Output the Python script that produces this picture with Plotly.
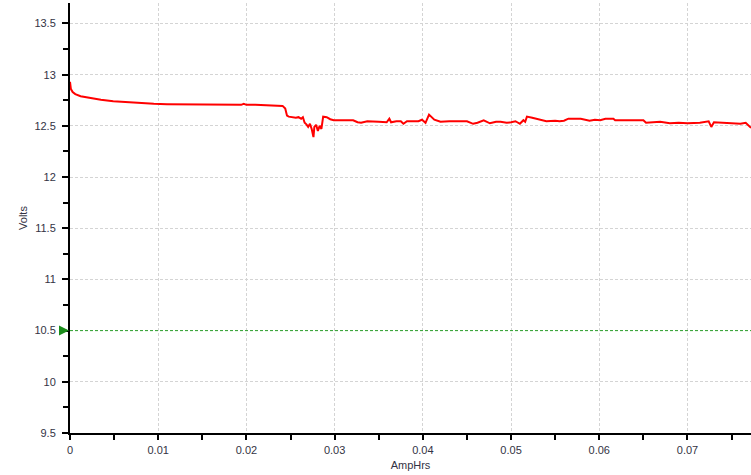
import plotly.graph_objects as go

amp_hrs = [0.0000, 0.0001, 0.0003, 0.0006, 0.0012, 0.0023, 0.0035, 0.0049, 0.0072, 0.0095,
           0.0110, 0.0148, 0.0190, 0.0194, 0.0197, 0.0200, 0.0210, 0.0222, 0.0236, 0.0241,
           0.0244, 0.0246, 0.0248, 0.0252, 0.0256, 0.0259, 0.0262, 0.0264, 0.0266, 0.0268,
           0.0270, 0.0272, 0.0274, 0.0276, 0.0277, 0.0279, 0.0281, 0.0283, 0.0285, 0.0287,
           0.0291, 0.0295, 0.0299, 0.0310, 0.0321, 0.0326, 0.0330, 0.0337, 0.0344, 0.0350,
           0.0359, 0.0362, 0.0364, 0.0370, 0.0375, 0.0378, 0.0382, 0.0395, 0.0399, 0.0403,
           0.0407, 0.0410, 0.0413, 0.0420, 0.0430, 0.0450, 0.0457, 0.0462, 0.0469, 0.0476,
           0.0483, 0.0488, 0.0495, 0.0500, 0.0505, 0.0510, 0.0514, 0.0516, 0.0518, 0.0524,
           0.0533, 0.0540, 0.0550, 0.0555, 0.0560, 0.0565, 0.0579, 0.0589, 0.0595, 0.0601,
           0.0607, 0.0616, 0.0618, 0.0650, 0.0653, 0.0660, 0.0669, 0.0680, 0.0690, 0.0700,
           0.0714, 0.0724, 0.0727, 0.0730, 0.0740, 0.0752, 0.0760, 0.0766, 0.0770, 0.0772]
volts = [12.93, 12.86, 12.83, 12.81, 12.79, 12.77, 12.755, 12.74, 12.725, 12.715,
         12.712, 12.71, 12.71, 12.705, 12.715, 12.705, 12.707, 12.705, 12.703, 12.695,
         12.67, 12.60, 12.59, 12.585, 12.58, 12.585, 12.57, 12.585, 12.53, 12.515,
         12.49, 12.52, 12.47, 12.39, 12.49, 12.51, 12.45, 12.50, 12.47, 12.59,
         12.585, 12.565, 12.555, 12.555, 12.555, 12.535, 12.53, 12.545, 12.545, 12.54,
         12.535, 12.57, 12.535, 12.545, 12.545, 12.52, 12.545, 12.545, 12.56, 12.53,
         12.61, 12.585, 12.56, 12.54, 12.545, 12.545, 12.52, 12.53, 12.555, 12.525,
         12.54, 12.54, 12.53, 12.535, 12.545, 12.52, 12.555, 12.54, 12.59, 12.58,
         12.56, 12.545, 12.55, 12.545, 12.55, 12.57, 12.57, 12.55, 12.56, 12.555,
         12.57, 12.57, 12.555, 12.555, 12.53, 12.535, 12.54, 12.525, 12.53, 12.525,
         12.53, 12.545, 12.49, 12.535, 12.53, 12.53, 12.52, 12.53, 12.49, 12.48]

cutoff_volts = 10.5
x_range = [0, 0.0772]
y_range = [9.5, 13.7]
y_tickvals = [9.5, 10, 10.5, 11, 11.5, 12, 12.5, 13, 13.5]
y_ticktext = ["9.5", "10", "10.5", "11", "11.5", "12", "12.5", "13", "13.5"]
x_tickvals = [0, 0.01, 0.02, 0.03, 0.04, 0.05, 0.06, 0.07]
x_ticktext = ["0", "0.01", "0.02", "0.03", "0.04", "0.05", "0.06", "0.07"]

fig = go.Figure()
fig.add_trace(go.Scatter(x=x_range, y=[cutoff_volts, cutoff_volts], mode="lines",
                         line=dict(color="#2ca02c", width=1, dash="3px,2px"),
                         hoverinfo="skip", showlegend=False))
fig.add_trace(go.Scatter(x=amp_hrs, y=volts, mode="lines",
                         line=dict(color="#ff0000", width=2),
                         showlegend=False))
fig.add_annotation(x=0, y=cutoff_volts, xref="x", yref="y", text="",
                   showarrow=True, ax=-7, ay=0, arrowhead=2, arrowsize=0.8,
                   arrowwidth=2.5, arrowcolor="#1a8c1a", standoff=1)

tickfont = dict(family="Liberation Sans, Arial, sans-serif", size=11, color="#333344")
fig.update_layout(
    width=751, height=475,
    margin=dict(l=70, r=0, t=3, b=42),
    paper_bgcolor="white", plot_bgcolor="white",
    font=tickfont,
    xaxis=dict(range=x_range, tickvals=x_tickvals, ticktext=x_ticktext, automargin=False,
               showline=True, linecolor="black", linewidth=2,
               ticks="outside", ticklen=5, tickwidth=2, tickcolor="black",
               ticklabelstandoff=1,
               showgrid=True, gridcolor="#d4d4d4", gridwidth=1, griddash="3px,2px",
               zeroline=False,
               minor=dict(dtick=0.005, ticks="outside", ticklen=5, tickwidth=2,
                          tickcolor="black", showgrid=False),
               title=dict(text="AmpHrs", font=dict(size=11, color="#333344"), standoff=6),
               tickfont=tickfont),
    yaxis=dict(range=y_range, tickvals=y_tickvals, ticktext=y_ticktext, automargin=False,
               showline=True, linecolor="black", linewidth=2,
               ticks="outside", ticklen=6, tickwidth=2, tickcolor="black",
               ticklabelstandoff=4,
               showgrid=True, gridcolor="#d4d4d4", gridwidth=1, griddash="3px,2px",
               zeroline=False,
               minor=dict(dtick=0.25, ticks="outside", ticklen=5, tickwidth=2,
                          tickcolor="black", showgrid=False),
               title=dict(text="Volts", font=dict(size=11, color="#333344"), standoff=5),
               tickfont=tickfont),
)
fig.write_html("out.html", config={"displayModeBar": False},
               post_script="document.body.style.margin='0';")
